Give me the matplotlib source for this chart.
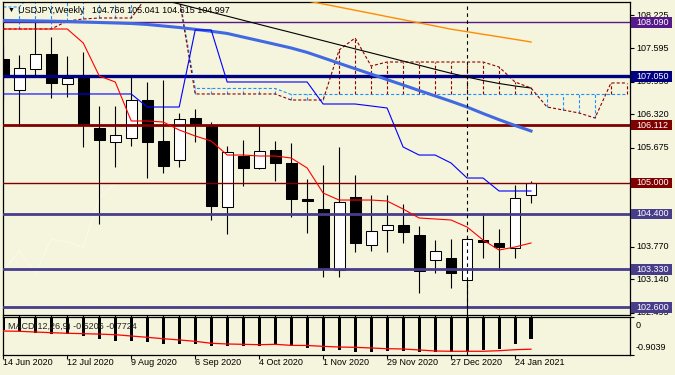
import numpy as np
import matplotlib.pyplot as plt
import matplotlib.transforms as mtrans
from matplotlib.patches import Rectangle

plt.rcParams['font.family'] = ['Liberation Sans', 'DejaVu Sans']
plt.rcParams['lines.scale_dashes'] = False

BG = '#F5F4DC'

# USDJPY weekly candles, 14 Jun 2020 .. 31 Jan 2021
opens = [107.384, 106.787, 107.192, 107.481, 106.903, 107.037, 106.055, 105.785, 105.862, 106.594,
         105.804, 105.438, 106.247, 106.113, 104.533, 105.515, 105.284, 105.631, 105.381, 104.687,
         104.494, 103.318, 104.725, 103.800, 104.089, 104.186, 103.993, 103.511, 103.550, 103.126,
         103.897, 103.839, 103.743, 104.766]
highs = [107.654, 107.461, 108.136, 107.808, 107.442, 107.519, 106.479, 106.479, 107.057, 106.941,
         106.980, 106.344, 106.421, 106.170, 105.708, 105.823, 106.113, 105.804, 105.765, 105.072,
         105.342, 105.688, 105.149, 104.764, 104.764, 104.590, 104.166, 103.897, 103.916, 103.955,
         104.417, 104.109, 104.957, 105.041]
lows = [106.594, 106.093, 107.037, 106.633, 106.652, 105.689, 104.205, 105.303, 105.708, 105.091,
        105.188, 105.303, 105.785, 104.282, 104.013, 104.937, 105.270, 105.034, 104.340, 104.032,
        103.184, 103.184, 103.665, 103.685, 103.665, 103.839, 102.876, 103.261, 102.972, 102.509,
        103.550, 103.318, 103.550, 104.615]
closes = [107.037, 107.211, 107.481, 106.922, 107.018, 106.113, 105.823, 105.920, 106.594, 105.785,
          105.323, 106.228, 106.132, 104.552, 105.592, 105.284, 105.612, 105.381, 104.687, 104.648,
          103.357, 104.629, 103.839, 104.070, 104.186, 104.051, 103.299, 103.685, 103.261, 103.916,
          103.858, 103.762, 104.706, 104.997]

# ichimoku
tenkan = [107.962, 107.962, 107.962, 107.962, 107.962, 107.692, 107.057, 106.941, 106.190, 106.190,
          106.170, 106.016, 105.901, 105.804, 105.534, 105.534, 105.515, 105.515, 105.477, 105.284,
          104.802, 104.667, 104.667, 104.667, 104.648, 104.494, 104.321, 104.302, 104.282, 104.147,
          103.897, 103.704, 103.762, 103.839]
kijun = [106.710, 106.710, 106.710, 106.710, 106.710, 106.710, 106.710, 106.710, 106.710, 106.459,
         106.459, 106.459, 107.943, 107.943, 106.941, 106.941, 106.941, 106.941, 106.941, 106.941,
         106.517, 106.517, 106.517, 106.479, 106.440, 105.689, 105.534, 105.534, 105.380, 105.091,
         105.091, 104.841, 104.841, 104.841]
span_a = [108.386, 108.386, 108.70, 108.70, 108.70, 108.70, 108.70, 108.70, 108.70, 108.70,
          108.70, 108.60, 106.816, 106.816, 106.816, 106.816, 106.816, 106.816, 106.700, 106.700,
          106.700, 106.700, 106.700, 106.700, 106.700, 106.700, 106.700, 106.700, 106.700, 106.700,
          106.700, 106.700, 106.700, 106.700, 106.700, 106.700, 106.700, 106.700, 106.700, 106.700]
span_b = [107.962, 107.962, 107.962, 107.962, 108.116, 108.155, 108.174, 108.174, 108.174, 108.60,
          108.60, 108.55, 106.710, 106.710, 106.710, 106.710, 106.710, 106.710, 106.594, 106.594,
          106.594, 107.558, 107.789, 107.249, 107.326, 107.326, 107.326, 107.326, 107.326, 107.326,
          107.326, 107.230, 106.941, 106.825, 106.459, 106.402, 106.344, 106.247, 106.922, 106.922]

# moving averages
ma_blue = [108.126, 108.122, 108.118, 108.113, 108.107, 108.097, 108.087, 108.078, 108.068, 108.049,
           108.020, 107.991, 107.955, 107.918, 107.876, 107.806, 107.737, 107.667, 107.596, 107.511,
           107.407, 107.301, 107.197, 107.093, 106.987, 106.883, 106.777, 106.673, 106.569, 106.459,
           106.334, 106.215, 106.103, 105.997]
black_from = 10
ma_black = [108.52, 108.444, 108.365, 108.288, 108.209, 108.130, 108.051, 107.972, 107.895, 107.816,
            107.737, 107.658, 107.579, 107.502, 107.423, 107.344, 107.265, 107.186, 107.109, 107.037,
            106.970, 106.912, 106.864, 106.825]
orange_from = 19
ma_orange = [108.505, 108.444, 108.384, 108.323, 108.263, 108.201, 108.141, 108.080, 108.020, 107.958,
             107.910, 107.860, 107.812, 107.762, 107.712]

# MACD(12,26,9)
macd_main = [-0.32, -0.34, -0.38, -0.40, -0.40, -0.46, -0.52, -0.58, -0.58, -0.60,
             -0.65, -0.64, -0.64, -0.70, -0.70, -0.70, -0.70, -0.65, -0.70, -0.74,
             -0.82, -0.80, -0.84, -0.84, -0.82, -0.82, -0.84, -0.84, -0.84, -0.84,
             -0.78, -0.76, -0.65, -0.5206]
macd_signal = [-0.336, -0.343, -0.36, -0.376, -0.39, -0.40, -0.41, -0.424, -0.456, -0.487,
               -0.52, -0.55, -0.583, -0.63, -0.647, -0.655, -0.664, -0.655, -0.68, -0.683,
               -0.703, -0.72, -0.727, -0.743, -0.76, -0.767, -0.79, -0.815, -0.822, -0.822,
               -0.822, -0.808, -0.784, -0.7724]

levels = [108.090, 107.050, 106.112, 105.000, 104.400, 103.330, 102.600]
level_colors = ['#55198A', '#000080', '#800000', '#800000', '#483D8B', '#483D8B', '#483D8B']
level_widths = [1.0, 2.4, 2.0, 1.0, 2.0, 2.0, 2.0]

price_ticks = ['108.225', '107.595', '106.950', '106.320', '105.675', '105.045',
               '104.410', '103.770', '103.140', '102.495']
# labels that are fully covered by a level box in the reference
hidden_ticks = ['105.045', '104.410']
date_labels = ['14 Jun 2020', '12 Jul 2020', '9 Aug 2020', '6 Sep 2020', '4 Oct 2020',
               '1 Nov 2020', '29 Nov 2020', '27 Dec 2020', '24 Jan 2021']
date_pos = [0, 4, 8, 12, 16, 20, 24, 28, 32]
year_sep = 29

FS = 6.5


def draw_main(ax):
    x = np.arange(len(closes))
    o = np.array(opens)
    c = np.array(closes)

    # cloud hatch
    for k in range(len(span_a)):
        a, b = span_a[k], span_b[k]
        col = '#1E90FF' if a >= b else '#8B0000'
        ax.vlines(k, min(a, b), max(a, b), color=col, lw=0.8, linestyles=(0, (2.2, 1.5)), zorder=2)
    xs = np.arange(len(span_a))
    ax.plot(xs, span_a, color='#1E90FF', lw=0.8, ls=(0, (2.2, 1.5)), zorder=2)
    ax.plot(xs, span_b, color='#8B0000', lw=0.8, ls=(0, (2.2, 1.5)), zorder=2)

    # chikou
    ax.plot(x[:-26], closes[26:], color='#FAF9EA', lw=0.9, zorder=2)

    # candles
    ax.vlines(x, lows, highs, color='black', lw=0.8, zorder=3)
    ax.bar(x, np.maximum(np.abs(c - o), 0.02), bottom=np.minimum(o, c), width=0.68,
           color=np.where(c >= o, 'white', 'black'), edgecolor='black', lw=0.75, zorder=4)

    # levels
    for lv, col, w in zip(levels, level_colors, level_widths):
        ax.axhline(lv, color=col, lw=w, zorder=5)

    # indicators
    ax.plot(x, ma_blue, color='#4169E1', lw=2.2, zorder=6)
    ax.plot(np.arange(black_from, black_from + len(ma_black)), ma_black, color='black', lw=0.8, zorder=6)
    ax.plot(np.arange(orange_from, orange_from + len(ma_orange)), ma_orange, color='#FF8C00', lw=1.0, zorder=6)
    ax.plot(x, kijun, color='#0000FF', lw=0.8, zorder=6)
    ax.plot(x, tenkan, color='#FF0000', lw=0.8, zorder=6)

    ax.axvline(year_sep, color='black', lw=0.8, ls=(0, (2.5, 2.5)), zorder=7)

    ax.set_xlim(-0.02, 39.19)
    ax.set_ylim(102.452, 108.482)
    ax.yaxis.tick_right()
    ax.set_yticks([float(t) for t in price_ticks])
    ax.set_xticks(x)
    ax.tick_params(axis='y', length=3, width=0.8, labelright=False)
    ax.tick_params(axis='x', length=2, width=0.8, labelbottom=False)

    tr = mtrans.blended_transform_factory(ax.transAxes, ax.transData)
    for t in price_ticks:
        if t in hidden_ticks:
            continue
        ax.text(1.0096, float(t), t, transform=tr, ha='left', va='center', fontsize=FS,
                clip_on=False, zorder=8)
    for lv, col in zip(levels, level_colors):
        ax.add_patch(Rectangle((1.0016, lv - 0.1), 0.0654, 0.2, transform=tr, facecolor=col,
                               edgecolor='none', clip_on=False, zorder=9))
        ax.text(1.0096, lv, f'{lv:.3f}', transform=tr, ha='left', va='center', fontsize=FS,
                color='white', clip_on=False, zorder=10)

    ax.text(0.0128, 0.9744, '\u25bc', transform=ax.transAxes, ha='center', va='center',
            fontsize=5, zorder=10)
    ax.text(0.0239, 0.9744, 'USDJPY,Weekly   104.766 105.041 104.615 104.997',
            transform=ax.transAxes, ha='left', va='center', fontsize=FS, zorder=10)


def draw_macd(am):
    x = np.arange(len(macd_main))
    am.bar(x, macd_main, width=0.19, color='black', zorder=3)
    am.plot(x, macd_signal, color='red', lw=0.9, zorder=4)
    am.axvline(year_sep, color='black', lw=0.8, ls=(0, (2.5, 2.5)), zorder=2)

    am.set_xlim(-0.02, 39.19)
    am.set_ylim(-0.9039, 0)
    am.yaxis.tick_right()
    am.set_yticks([0, -0.9039])
    am.set_xticks(date_pos)
    am.tick_params(axis='y', length=3, width=0.8, labelright=False)
    am.tick_params(axis='x', length=3, width=0.8, labelbottom=False)

    am.text(0.008, 0.735, 'MACD(12,26,9) -0.5206 -0.7724', transform=am.transAxes,
            ha='left', va='center', fontsize=FS, color='#222222', zorder=6)

    trx = mtrans.blended_transform_factory(am.transData, am.transAxes)
    for p, lab in zip(date_pos, date_labels):
        am.text(p, -0.22, lab, transform=trx, ha='left', va='center', fontsize=FS, clip_on=False)


fig = plt.figure(figsize=(6.75, 3.75), dpi=100, facecolor=BG)
ax = fig.add_axes([3 / 675, 60 / 375, 627 / 675, 313 / 375], facecolor=BG)
am = fig.add_axes([3 / 675, 20.3 / 375, 627 / 675, 37.7 / 375], facecolor=BG)
for a in (ax, am):
    for s in a.spines.values():
        s.set_linewidth(0.9)

draw_main(ax)
draw_macd(am)

fig.text(636 / 675, 1 - 325 / 375, '0', ha='left', va='center', fontsize=FS)
fig.text(636 / 675, 1 - 347 / 375, '-0.9039', ha='left', va='center', fontsize=FS)

fig.savefig('out.png', dpi=100, facecolor=BG)
